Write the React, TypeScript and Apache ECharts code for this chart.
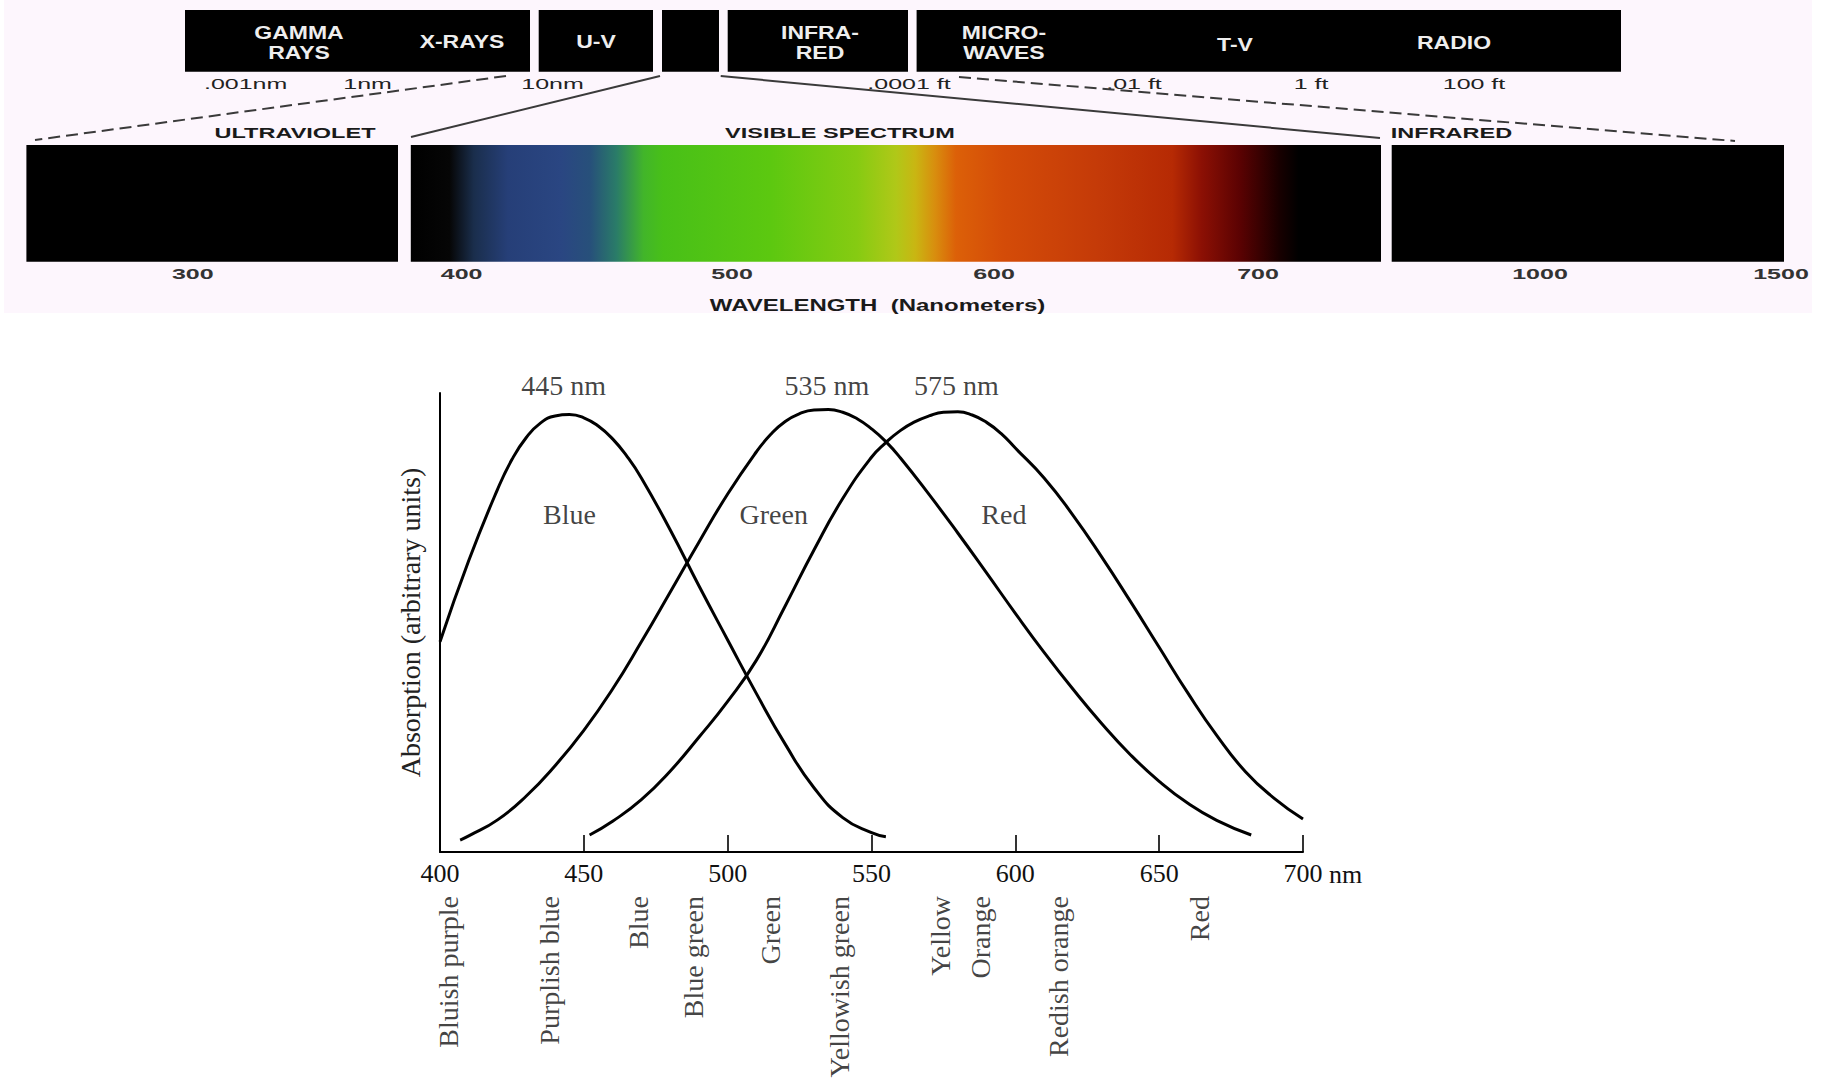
import React, { useEffect, useRef } from "react";
import * as echarts from "echarts";

// ---------- lower chart data ----------
const wavelengthTicks = [400, 450, 500, 550, 600, 650, 700];
const blueCurve: [number, number][] = [
  [400, 45.8], [410, 63.5], [420, 79], [425, 85.5], [430, 90.3], [435, 93.5], [440, 95],
  [445, 95.3], [450, 94.6], [455, 92.8], [460, 90], [465, 86.2], [470, 81.5], [480, 70.2],
  [490, 58], [500, 46.2], [510, 34.5], [520, 23.5], [530, 14], [540, 7.5], [550, 4.2], [555, 3.3],
];
const greenCurve: [number, number][] = [
  [407, 2.6], [410, 3.5], [420, 7], [430, 12.2], [440, 18.8], [450, 26.5], [460, 35.5],
  [470, 45.8], [480, 56.6], [490, 67.5], [500, 78], [510, 87.2], [515, 91], [520, 93.8],
  [525, 95.5], [530, 96.3], [535, 96.4], [540, 95.8], [545, 94.4], [550, 92.2], [555, 89.4],
  [560, 85.9], [570, 77.9], [580, 69.5], [590, 60.8], [600, 52], [610, 43.5], [620, 35.5],
  [630, 28], [640, 21.2], [650, 15.4], [660, 10.6], [670, 6.9], [682, 3.7],
];
const redCurve: [number, number][] = [
  [452, 3.7], [460, 6.7], [470, 11.4], [480, 17.6], [490, 25], [500, 32.8], [510, 41.8],
  [520, 53.6], [530, 65.8], [540, 77], [550, 86], [555, 89.2], [560, 91.8], [565, 93.7],
  [570, 95], [575, 95.8], [580, 95.9], [585, 95.2], [590, 93.6], [595, 91.2], [600, 88],
  [610, 81.5], [620, 73.4], [630, 64.3], [640, 54.6], [650, 44.6], [660, 34.6], [670, 25.4],
  [680, 17.5], [690, 11.7], [700, 7.2],
];
const peakLabels = ["445 nm", "535 nm", "575 nm"];
const peakLabelNm = [443, 534.5, 579.5];
const peakLabelValue = 101.7;
const coneNames = ["Blue", "Green", "Red"];
const coneNameNm = [445, 516, 596];
const coneNameValue = 73.6;
const hueNames = [
  "Bluish purple", "Purplish blue", "Blue", "Blue green", "Green",
  "Yellowish green", "Yellow", "Orange", "Redish orange", "Red",
];
const hueNm = [403, 438, 469, 488, 515, 539, 574, 588, 615, 664];
const hueLabelValue = -9.6;
const yAxisTitle = "Absorption (arbitrary units)";
const unitLabel = "nm";

// ---------- upper strip texts ----------
const bandLabels = [
  ["GAMMA", "RAYS"], ["X-RAYS"], ["U-V"], ["INFRA-", "RED"], ["MICRO-", "WAVES"], ["T-V"], ["RADIO"],
];
const scaleLabels = [".001nm", "1nm", "10nm", ".0001 ft", ".01 ft", "1 ft", "100 ft"];
const regionLabels = ["ULTRAVIOLET", "VISIBLE SPECTRUM", "INFRARED"];
const spectrumTickLabels = ["300", "400", "500", "600", "700", "1000", "1500"];
const stripTitle = "WAVELENGTH  (Nanometers)";

// layout of the upper strip (pixels)
const bandBoxes = [
  [185, 530], [538.7, 653], [662, 719], [727.7, 908], [916.6, 1621],
];
const bandLabelPos = [
  [299, [32, 52]], [462, [41]], [596, [41]], [820, [32, 52]], [1004, [32, 52]], [1235, [44]], [1454, [42]],
] as [number, number[]][];
const scaleLabelX = [245.6, 367.6, 552.5, 909, 1134, 1311, 1474];
const regionLabelX = [295, 840, 1451.5];
const spectrumBoxes = [[26.4, 398], [410.8, 1381], [1391.7, 1784]];
const spectrumTickX = [192.8, 461.6, 732, 994, 1258, 1540, 1781];
const spectrumStops = [
  [0, "#000000"], [0.04, "#060606"], [0.065, "#1a2e4c"], [0.1, "#263f78"], [0.155, "#2a4682"],
  [0.185, "#27507a"], [0.212, "#2a7c68"], [0.24, "#42b52a"], [0.26, "#48c018"], [0.37, "#5cc810"],
  [0.46, "#86cb12"], [0.5, "#b0c818"], [0.52, "#c9b612"], [0.54, "#d88e0e"], [0.562, "#dc6008"],
  [0.61, "#d44c08"], [0.71, "#c43a08"], [0.785, "#b62a04"], [0.815, "#8c1004"], [0.855, "#5a0202"],
  [0.895, "#180000"], [0.915, "#000000"], [1, "#000000"],
] as [number, string][];

const SANS = "'Liberation Sans', Arial, sans-serif";
const SERIF = "'Liberation Serif', 'Times New Roman', serif";

function txt(text: string, x: number, y: number, size: number, weight: string, fill: string, scaleY: number) {
  return {
    type: "text",
    x,
    y,
    scaleY,
    style: {
      text,
      fill,
      fontSize: size,
      fontWeight: weight,
      fontFamily: SANS,
      align: "center",
      verticalAlign: "middle",
    },
  };
}

function buildStrip(): any[] {
  const els: any[] = [];
  els.push({ type: "rect", shape: { x: 4, y: 0, width: 1808, height: 313 }, style: { fill: "#fdf6fd" } });
  bandBoxes.forEach(([a, b]) =>
    els.push({ type: "rect", shape: { x: a, y: 10, width: b - a, height: 61.7 }, style: { fill: "#000" } })
  );
  bandLabels.forEach((lines, i) => {
    const [cx, ys] = bandLabelPos[i];
    lines.forEach((t, j) => els.push(txt(t, cx, ys[j], 23, "bold", "#eeeeee", 0.8)));
  });
  scaleLabels.forEach((t, i) => els.push(txt(t, scaleLabelX[i], 83, 25, "normal", "#222", 0.62)));
  const lineStyle = { stroke: "#3a3a3a", lineWidth: 2 };
  els.push({ type: "line", shape: { x1: 506, y1: 76, x2: 35, y2: 140 }, style: { ...lineStyle, lineDash: [12, 6] } });
  els.push({ type: "line", shape: { x1: 660, y1: 76, x2: 411, y2: 137 }, style: lineStyle });
  els.push({ type: "line", shape: { x1: 720.7, y1: 76, x2: 1380, y2: 138 }, style: lineStyle });
  els.push({ type: "line", shape: { x1: 959, y1: 77, x2: 1735, y2: 141 }, style: { ...lineStyle, lineDash: [12, 6] } });
  regionLabels.forEach((t, i) => els.push(txt(t, regionLabelX[i], 133, 23.5, "bold", "#1a1a1a", 0.62)));
  spectrumBoxes.forEach(([a, b], i) =>
    els.push({
      type: "rect",
      shape: { x: a, y: 145, width: b - a, height: 116.7 },
      style: {
        fill:
          i === 1
            ? {
                type: "linear", x: 0, y: 0, x2: 1, y2: 0,
                colorStops: spectrumStops.map(([o, c]) => ({ offset: o, color: c })),
              }
            : "#000",
      },
    })
  );
  spectrumTickLabels.forEach((t, i) => els.push(txt(t, spectrumTickX[i], 273, 25, "bold", "#333", 0.62)));
  els.push(txt(stripTitle, 877.6, 306, 24, "bold", "#1a1a1a", 0.66));
  return els;
}

function annotation(name: string, labels: string[], xs: number[], yv: number, extra: any = {}) {
  return {
    name,
    type: "scatter",
    symbolSize: 1,
    clip: false,
    silent: true,
    itemStyle: { color: "rgba(0,0,0,0)" },
    data: labels.map((t, i) => ({ value: [xs[i], yv], name: t })),
    label: {
      show: true,
      position: "inside",
      formatter: (p: any) => p.name,
      fontFamily: SERIF,
      fontSize: 28,
      color: "#111",
      ...extra,
    },
    z: 5,
  };
}

export default function App() {
  const ref = useRef<HTMLDivElement>(null);
  useEffect(() => {
    document.body.style.margin = "0";
    const chart = echarts.init(ref.current!, null, { renderer: "svg" });
    const lineSeries = (name: string, data: [number, number][]) => ({
      name,
      type: "line",
      data,
      smooth: 0.5,
      showSymbol: false,
      clip: false,
      lineStyle: { color: "#000", width: 3 },
      z: 3,
    });
    chart.setOption({
      animation: false,
      backgroundColor: "#ffffff",
      grid: { left: 440, right: 526, top: 393, bottom: 227, containLabel: false },
      xAxis: {
        type: "value",
        min: wavelengthTicks[0],
        max: wavelengthTicks[wavelengthTicks.length - 1],
        interval: 50,
        axisLine: { show: true, lineStyle: { color: "#000", width: 2 } },
        axisTick: { show: true, inside: true, length: 17, lineStyle: { color: "#000", width: 1.6 } },
        axisLabel: { fontFamily: SERIF, fontSize: 26, color: "#111", margin: 8 },
        splitLine: { show: false },
      },
      yAxis: {
        type: "value",
        min: 0,
        max: 100,
        axisLine: { show: true, lineStyle: { color: "#000", width: 2 } },
        axisTick: { show: false },
        axisLabel: { show: false },
        splitLine: { show: false },
        name: yAxisTitle,
        nameLocation: "middle",
        nameGap: 16,
        nameTextStyle: { fontFamily: SERIF, fontSize: 28, color: "#222" },
      },
      series: [
        lineSeries("Blue", blueCurve),
        lineSeries("Green", greenCurve),
        lineSeries("Red", redCurve),
        annotation("peaks", peakLabels, peakLabelNm, peakLabelValue),
        annotation("cones", coneNames, coneNameNm, coneNameValue),
        annotation("hues", hueNames, hueNm, hueLabelValue, { rotate: 90, align: "right", verticalAlign: "middle" }),
      ],
    });
    const p = chart.convertToPixel({ xAxisIndex: 0, yAxisIndex: 0 }, [wavelengthTicks[wavelengthTicks.length - 1], 0]) as number[];
    const nm = {
      type: "text",
      x: p[0] + 26,
      y: p[1] + 22,
      style: { text: unitLabel, fill: "#111", fontSize: 26, fontFamily: SERIF, align: "left", verticalAlign: "middle" },
    };
    chart.setOption({ graphic: { elements: [...buildStrip(), nm] } });
    return () => chart.dispose();
  }, []);
  return <div ref={ref} style={{ width: 1829, height: 1079 }} />;
}
